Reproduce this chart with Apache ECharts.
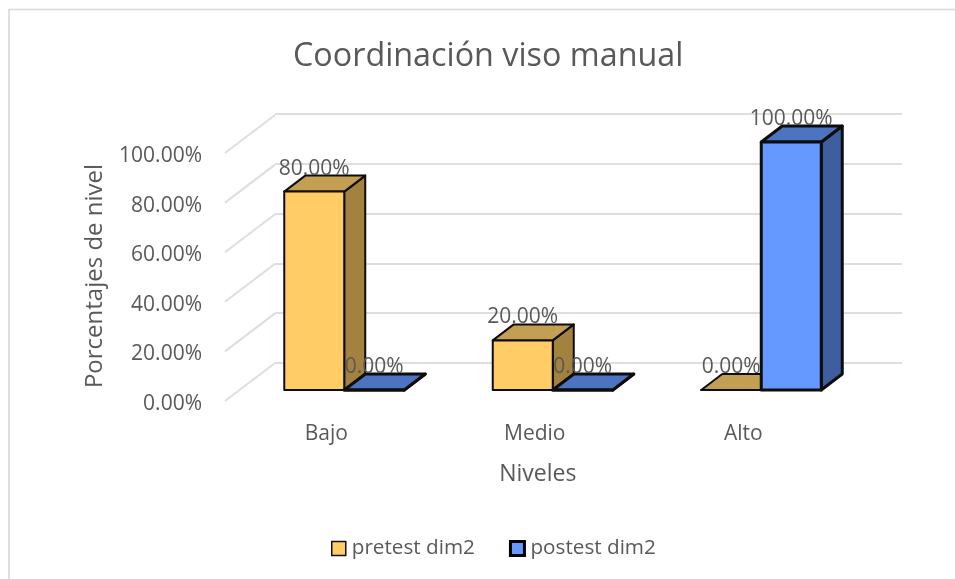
<!DOCTYPE html>
<html><head><meta charset="utf-8">
<style>html,body{margin:0;padding:0;background:#fff}#c{width:955px;height:579px}</style>
<script src="https://cdn.jsdelivr.net/npm/echarts@6/dist/echarts.min.js"></script>
</head><body><div id="c"></div>
<script>
const categories = ['Bajo', 'Medio', 'Alto'];
const pretest = [80, 20, 0];
const postest = [0, 0, 100];
const yTicks = [0, 20, 40, 60, 80, 100];
const font = '"Open Sans", sans-serif';
const gray = '#595959';

const wall = [50, -38];      // floor depth projected on screen
const barFront = [15, -11];  // where the bars' front plane sits in that depth
const barDepth = [21, -16];  // depth of a bar
const BAR_RATIO = 60 / 208.5;

function poly(points, fill, stroke, lw) {
  return { type: 'polygon', shape: { points }, style: { fill, stroke, lineWidth: lw, lineJoin: 'round' } };
}
function barPoints(api, slot) {
  const p0 = api.coord([api.value(0), 0]);
  const p1 = api.coord([api.value(0), api.value(1)]);
  const w = api.size([1, 0])[0] * BAR_RATIO;
  const xl = p0[0] + barFront[0] + (slot === 0 ? -w : 0);
  const xr = xl + w;
  const yb = p0[1] + barFront[1];
  const yt = p1[1] + barFront[1];
  return { xl, xr, yb, yt, w };
}
function barRenderer(slot, colors, lw) {
  return function (params, api) {
    const b = barPoints(api, slot);
    const [dx, dy] = barDepth;
    const s = '#0d0d0d';
    return { type: 'group', children: [
      poly([[b.xr, b.yb], [b.xr + dx, b.yb + dy], [b.xr + dx, b.yt + dy], [b.xr, b.yt]], colors.side, s, lw),
      poly([[b.xl, b.yt], [b.xl + dx, b.yt + dy], [b.xr + dx, b.yt + dy], [b.xr, b.yt]], colors.top, s, lw),
      poly([[b.xl, b.yb], [b.xr, b.yb], [b.xr, b.yt], [b.xl, b.yt]], colors.front, s, lw)
    ] };
  };
}
function labelRenderer(slot) {
  return function (params, api) {
    const b = barPoints(api, slot);
    return { type: 'text', z2: 100, style: {
      text: api.value(1).toFixed(2) + '%',
      x: (b.xl + b.xr) / 2, y: b.yt + barDepth[1] - 7,
      align: 'center', verticalAlign: 'middle',
      fill: gray, font: '21px ' + font } };
  };
}
function pairs(values) { return values.map((v, i) => [i, v]); }

const option = {
  animation: false,
  backgroundColor: '#fff',
  title: { text: 'Coordinación viso manual', left: 293, top: 41, padding: 0,
    textStyle: { color: gray, fontFamily: font, fontWeight: 'normal', fontSize: 32.3 } },
  legend: {
    left: 331, top: 538, padding: 0, itemWidth: 14, itemHeight: 14, itemGap: 34, icon: 'rect',
    textStyle: { color: gray, fontFamily: font, fontSize: 20.7, padding: [0, 0, 0, 1] },
    data: [
      { name: 'pretest dim2', itemStyle: { color: '#FFCC66', borderColor: '#111', borderWidth: 1.5 } },
      { name: 'postest dim2', itemStyle: { color: '#6699FF', borderColor: '#000', borderWidth: 3 } }
    ]
  },
  grid: [
    { left: 225, top: 153, width: 625.5, height: 248 },
    { left: 275, top: 114, width: 627, height: 249 }
  ],
  xAxis: [
    { type: 'category', gridIndex: 0, data: categories,
      axisLine: { show: false }, axisTick: { show: false },
      axisLabel: { color: gray, fontFamily: font, fontSize: 21, margin: 23, padding: [0, 6, 0, 0] },
      name: 'Niveles', nameLocation: 'middle', nameGap: 62,
      nameTextStyle: { color: gray, fontFamily: font, fontSize: 23 } },
    { type: 'category', gridIndex: 1, data: categories, show: false }
  ],
  yAxis: [
    { type: 'value', gridIndex: 0, min: 0, max: 100, interval: 20,
      axisLine: { show: false }, axisTick: { show: false }, splitLine: { show: false },
      axisLabel: { margin: 23,
        formatter: v => '{t|' + v.toFixed(2) + '%}',
        rich: { t: { color: gray, fontFamily: font, fontSize: 21, padding: [6, 0, 0, 0] } } },
      name: 'Porcentajes de nivel', nameLocation: 'middle', nameGap: 118, nameRotate: 90,
      nameTextStyle: { color: gray, fontFamily: font, fontSize: 24, padding: [0, 0, 0, 2] } },
    { type: 'value', gridIndex: 1, min: 0, max: 100, interval: 20,
      axisLine: { show: false }, axisTick: { show: false }, axisLabel: { show: false },
      splitLine: { show: true, lineStyle: { color: '#DEDEDE', width: 2 } } }
  ],
  series: [
    { type: 'custom', name: 'walls', xAxisIndex: 0, yAxisIndex: 0, silent: true, z: 1,
      data: yTicks.map(v => [0, v]),
      renderItem: (params, api) => {
        const band = api.size([1, 0])[0];
        const p = api.coord([0, api.value(1)]);
        const x = p[0] - band / 2;
        return { type: 'line', shape: { x1: x, y1: p[1], x2: x + wall[0], y2: p[1] + wall[1] },
          style: { stroke: '#DEDEDE', lineWidth: 2 } };
      } },
    { type: 'custom', name: 'pretest dim2', xAxisIndex: 0, yAxisIndex: 0, z: 3,
      itemStyle: { color: '#FFCC66' }, data: pairs(pretest),
      renderItem: barRenderer(0, { front: '#FFCC66', top: '#C29F52', side: '#A3823F' }, 2) },
    { type: 'custom', name: 'postest dim2', xAxisIndex: 0, yAxisIndex: 0, z: 4,
      itemStyle: { color: '#6699FF' }, data: pairs(postest),
      renderItem: barRenderer(1, { front: '#6699FF', top: '#4D74C1', side: '#3D5F9F' }, 3) },
    { type: 'custom', name: 'labels pretest', xAxisIndex: 0, yAxisIndex: 0, z: 5, silent: true,
      data: pairs(pretest), renderItem: labelRenderer(0) },
    { type: 'custom', name: 'labels postest', xAxisIndex: 0, yAxisIndex: 0, z: 5, silent: true,
      data: pairs(postest), renderItem: labelRenderer(1) }
  ],
  graphic: [
    { type: 'line', silent: true, z: -1, shape: { x1: 9, y1: 9, x2: 9, y2: 579 },
      style: { stroke: '#DEDEDE', lineWidth: 2 } },
    { type: 'line', silent: true, z: -1, shape: { x1: 9, y1: 9.5, x2: 955, y2: 9.5 },
      style: { stroke: '#D9D9D9', lineWidth: 1.5 } }
  ]
};
echarts.init(document.getElementById('c'), null, { renderer: 'canvas' }).setOption(option);
</script></body></html>
